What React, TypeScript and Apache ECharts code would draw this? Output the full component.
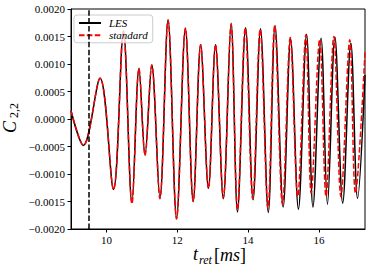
import React, { useEffect, useRef } from "react";
import * as echarts from "echarts";

const lesT = [9.0, 9.35, 9.82, 10.2, 10.48, 10.72, 10.92, 11.09, 11.28, 11.51, 11.74, 11.98, 12.23, 12.45, 12.66, 12.88, 13.08, 13.3, 13.52, 13.7, 13.93, 14.14, 14.35, 14.57, 14.76, 14.99, 15.2, 15.42, 15.65, 15.83, 16.06, 16.24, 16.45, 16.67, 16.9, 17.09, 17.3];
const lesV = [0.00015, -0.00048, 0.00074, -0.00128, 0.0016, -0.00152, 0.00092, -0.00065, 0.00098, -0.00143, 0.0018, -0.0018, 0.00165, -0.0015, 0.00135, -0.00126, 0.00135, -0.00145, 0.00174, -0.00169, 0.00166, -0.00147, 0.00164, -0.0017, 0.0017, -0.0016, 0.00146, -0.00164, 0.00154, -0.0016, 0.00147, -0.00155, 0.00149, -0.00153, 0.00138, -0.00144, 0.0008];

const stdT = [9.0, 9.35, 9.82, 10.2, 10.48, 10.72, 10.92, 11.09, 11.28, 11.51, 11.74, 11.98, 12.23, 12.45, 12.66, 12.88, 13.08, 13.3, 13.52, 13.7, 13.92, 14.13, 14.34, 14.56, 14.75, 14.97, 15.19, 15.4, 15.63, 15.78, 16.02, 16.2, 16.42, 16.62, 16.87, 17.03, 17.3];
const stdV = [0.00015, -0.00048, 0.00074, -0.00128, 0.0016, -0.00154, 0.00092, -0.00066, 0.00098, -0.00145, 0.0018, -0.00182, 0.00165, -0.0015, 0.00135, -0.00126, 0.00135, -0.00143, 0.00172, -0.00165, 0.00165, -0.00145, 0.00163, -0.00163, 0.0017, -0.00155, 0.00148, -0.00141, 0.00153, -0.00135, 0.00145, -0.00141, 0.0015, -0.00141, 0.00144, -0.00135, 0.00122];

const xTicks = [10, 12, 14, 16];
const markerT = 9.5;
const seriesNames = ["LES", "standard"];

const SERIF = "'Liberation Serif', 'DejaVu Serif', serif";

export default function App() {
  const ref = useRef<HTMLDivElement>(null);
  useEffect(() => {
    const chart = echarts.init(ref.current!, null, { renderer: "svg" });
    const fmt = (v: number) => {
      if (Math.abs(v) < 1e-9) return "0.0000";
      const s = v.toFixed(4);
      return s.replace("-", "\u2212");
    };
    chart.setOption({
      animation: false,
      grid: { left: 71, right: 9, top: 9, bottom: 42, show: true, borderColor: "#000", borderWidth: 1, backgroundColor: "transparent" },
      legend: {
        data: seriesNames,
        orient: "vertical",
        left: 74,
        top: 15,
        padding: [2, 5, 1.5, 4],
        itemWidth: 22,
        itemHeight: 10,
        itemGap: 0.3,
        itemStyle: { opacity: 0 },
        backgroundColor: "rgba(255,255,255,0.8)",
        borderColor: "#cccccc",
        borderWidth: 1,
        borderRadius: 3,
        textStyle: { fontFamily: SERIF, fontStyle: "italic", fontSize: 11, lineHeight: 12, height: 12, color: "#000", padding: [0, 0, 0, 3] },
      },
      xAxis: {
        type: "value",
        min: 9,
        max: 17.3,
        axisLine: { show: true, onZero: false, lineStyle: { color: "#000", width: 1 } },
        axisTick: { show: true, length: 3.5, customValues: xTicks, lineStyle: { color: "#000" } },
        axisLabel: { customValues: xTicks, fontFamily: SERIF, fontSize: 11, color: "#000", margin: 5 },
        splitLine: { show: false },
      },
      yAxis: {
        type: "value",
        min: -0.002,
        max: 0.002,
        interval: 0.0005,
        axisLine: { show: true, onZero: false, lineStyle: { color: "#000", width: 1 } },
        axisTick: { show: true, length: 3.5, lineStyle: { color: "#000" } },
        axisLabel: { formatter: fmt, fontFamily: SERIF, fontSize: 11, color: "#000", margin: 6 },
        splitLine: { show: false },
      },
      series: [
        {
          name: seriesNames[0],
          type: "line",
          data: lesT.map((t, i) => [t, lesV[i]]),
          symbol: "none",
          smooth: 0.35,
          lineStyle: { color: "#000", width: 1.5 },
          itemStyle: { color: "#000" },
          markLine: {
            silent: true,
            symbol: "none",
            label: { show: false },
            lineStyle: { color: "#000", type: [5.5, 2.4], width: 1.5 },
            data: [{ xAxis: markerT }],
          },
          z: 2,
        },
        {
          name: seriesNames[1],
          type: "line",
          data: stdT.map((t, i) => [t, stdV[i]]),
          symbol: "none",
          smooth: 0.35,
          lineStyle: { color: "#ff0000", width: 1.5, type: [5.5, 2.4] },
          itemStyle: { color: "#ff0000" },
          z: 3,
        },
      ],
      graphic: [
        {
          type: "group",
          x: 16,
          y: 133,
          rotation: Math.PI / 2,
          children: [
            { type: "text", x: 0, y: -6, style: { text: "C", font: `italic 18px ${SERIF}`, fill: "#000", textAlign: "left", textVerticalAlign: "middle" } },
            { type: "text", x: 15, y: -2, style: { text: "2,2", font: `12px ${SERIF}`, fill: "#000", textAlign: "left", textVerticalAlign: "middle" } },
          ],
        },
        { type: "text", x: 193, y: 263, style: { text: "t", font: `italic 18px ${SERIF}`, fill: "#000", textAlign: "left", textVerticalAlign: "bottom" } },
        { type: "text", x: 199, y: 266, style: { text: "ret", font: `italic 12px ${SERIF}`, fill: "#000", textAlign: "left", textVerticalAlign: "bottom" } },
        {
          type: "text",
          x: 214,
          y: 264,
          style: {
            text: "{b|[}{i|ms}{b|]}",
            textAlign: "left",
            textVerticalAlign: "bottom",
            rich: {
              b: { font: `18px ${SERIF}`, fill: "#000" },
              i: { font: `italic 18px ${SERIF}`, fill: "#000" },
            },
          },
        },
      ],
    });
    return () => chart.dispose();
  }, []);
  return <div ref={ref} style={{ position: "fixed", left: 0, top: 0, width: 374, height: 271, background: "#fff" }} />;
}
